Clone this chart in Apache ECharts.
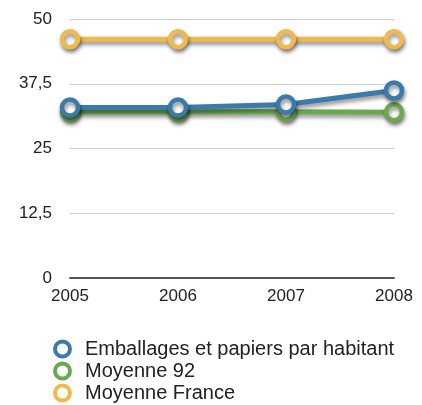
<!DOCTYPE html>
<html>
<head>
<meta charset="utf-8">
<script src="https://cdn.jsdelivr.net/npm/echarts@6/dist/echarts.min.js"></script>
<style>
  html, body { margin: 0; padding: 0; background: #fff; }
  #chart { width: 422px; height: 405px; }
</style>
</head>
<body>
<div id="chart"></div>
<script>
// données
const years = ['2005', '2006', '2007', '2008'];
const emballages = [32.9, 32.9, 33.5, 36.2];
const moyenne92 = [32.1, 32.1, 32.1, 32.0];
const moyenneFrance = [46.1, 46.1, 46.1, 46.1];
const yTicks = [0, 12.5, 25, 37.5, 50];

const chart = echarts.init(document.getElementById('chart'));

function lineSerie(name, data, color, z) {
    return {
        name: name,
        type: 'line',
        data: data,
        z: z,
        symbol: 'circle',
        symbolSize: 16,
        color: color,
        lineStyle: {
            width: 5,
            color: color,
            shadowColor: 'rgba(0,0,0,0.45)',
            shadowBlur: 4,
            shadowOffsetX: 1,
            shadowOffsetY: 3
        },
        itemStyle: {
            color: '#fff',
            borderColor: color,
            borderWidth: 4.5,
            shadowColor: 'rgba(0,0,0,0.45)',
            shadowBlur: 4,
            shadowOffsetX: 1,
            shadowOffsetY: 3
        },
        emphasis: { disabled: true }
    };
}

const option = {
    animation: false,
    textStyle: { fontFamily: 'Liberation Sans, Arial, sans-serif' },
    grid: { left: 70, right: 28, top: 19, bottom: 127 },
    legend: {
        orient: 'vertical',
        left: 48,
        top: 333,
        height: 80,
        icon: 'circle',
        itemWidth: 15,
        itemHeight: 15,
        itemGap: 0,
        itemStyle: { color: '#fff', borderWidth: 4 },
        textStyle: { fontSize: 20, lineHeight: 22, color: '#222', padding: [0, 0, 0, 10] },
        data: ['Emballages et papiers par habitant', 'Moyenne 92', 'Moyenne France']
    },
    xAxis: {
        type: 'category',
        data: years,
        boundaryGap: false,
        axisLine: { lineStyle: { color: '#555', width: 2 } },
        axisTick: { show: false },
        axisLabel: { fontSize: 17, color: '#222', margin: 10 }
    },
    yAxis: {
        type: 'value',
        min: yTicks[0],
        max: yTicks[yTicks.length - 1],
        interval: 12.5,
        axisLine: { show: false },
        axisTick: { show: false },
        splitLine: { lineStyle: { color: '#d0d0d0', width: 1 } },
        axisLabel: {
            fontSize: 17,
            color: '#222',
            margin: 18,
            formatter: v => String(v).replace('.', ',')
        }
    },
    series: [
        lineSerie('Emballages et papiers par habitant', emballages, '#3b7bab', 3),
        lineSerie('Moyenne 92', moyenne92, '#6aa84f', 2),
        lineSerie('Moyenne France', moyenneFrance, '#f0b94c', 2)
    ]
};

chart.setOption(option);
</script>
</body>
</html>
